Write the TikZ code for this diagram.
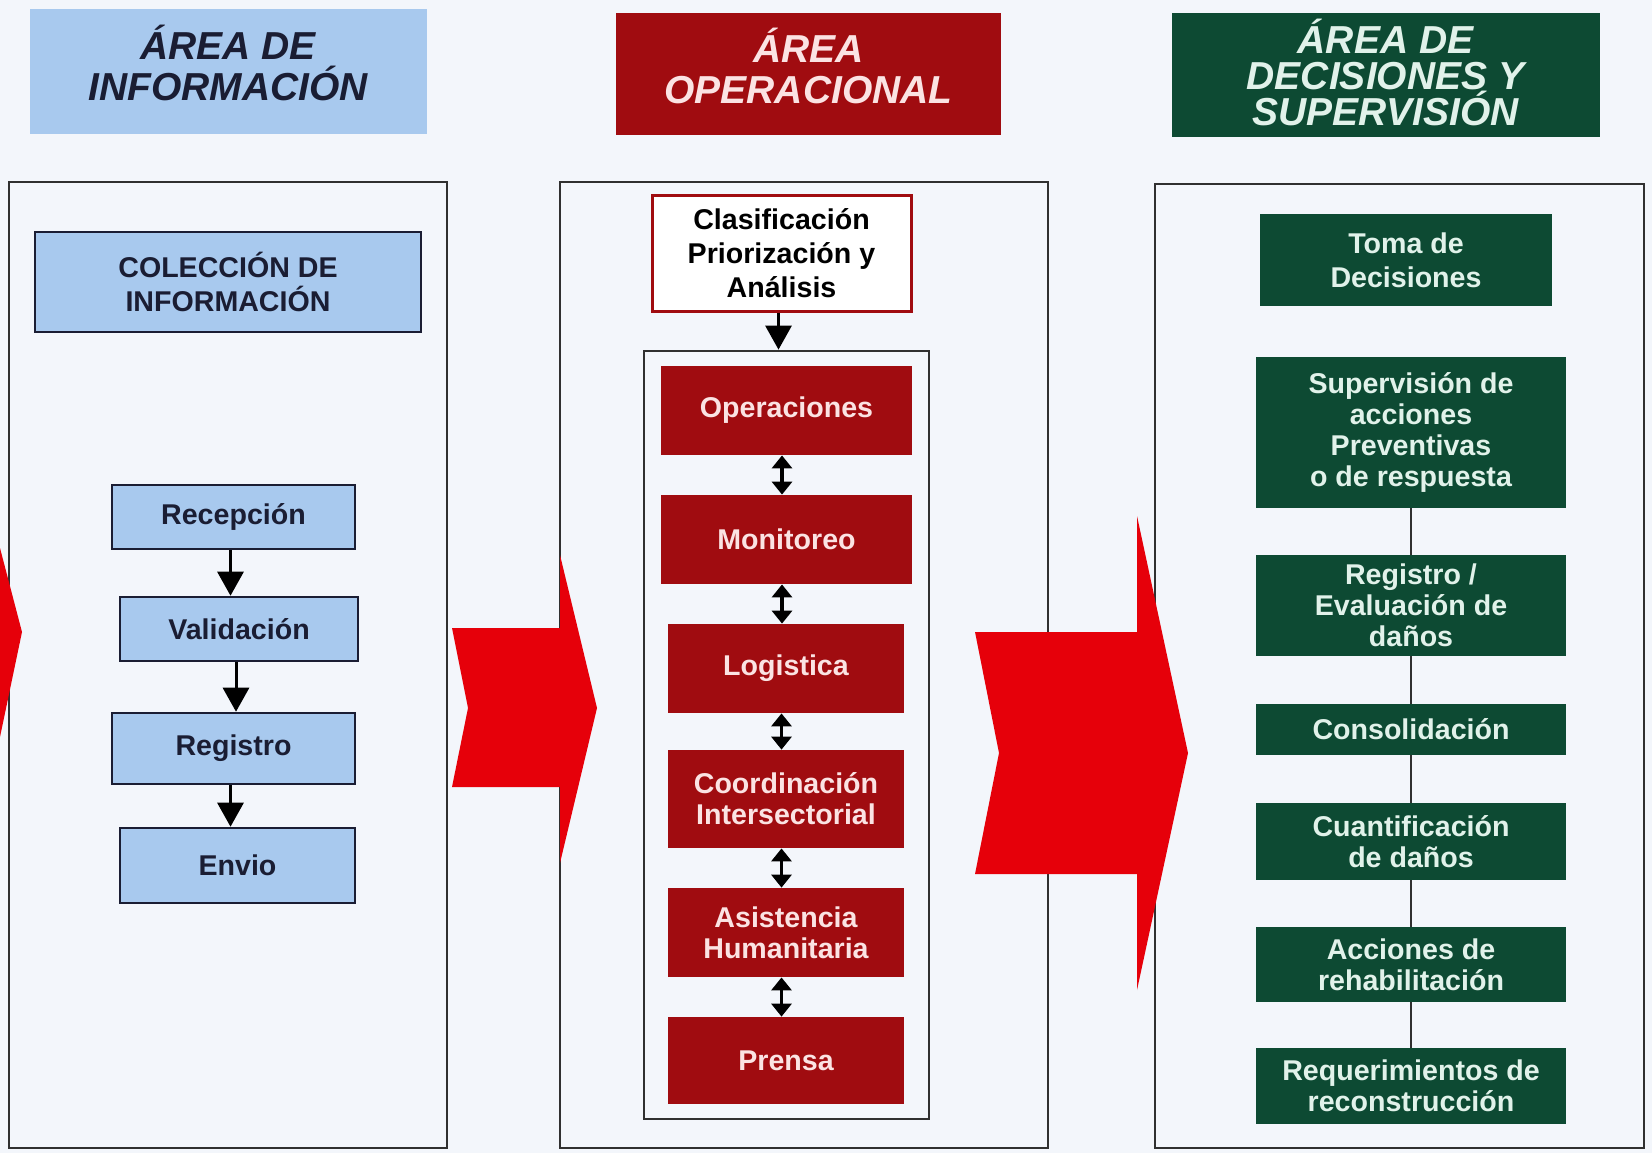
\documentclass[tikz,border=0pt]{standalone}
\usepackage{fontspec}
\setmainfont{Liberation Sans}
\usetikzlibrary{arrows.meta}
\definecolor{paper}{HTML}{F3F6FB}
\definecolor{infoblue}{HTML}{A8C9EE}
\definecolor{opred}{HTML}{A00C10}
\definecolor{decgreen}{HTML}{0D4A33}
\definecolor{flowred}{HTML}{E6000A}
\definecolor{ink}{HTML}{1A1D33}
\definecolor{framegray}{HTML}{303030}
\definecolor{optext}{HTML}{FBE3E3}
\definecolor{dectext}{HTML}{E1F2EA}

\begin{document}
\begin{tikzpicture}[
    x=0.5pt, y=-0.5pt,
    every node/.style={inner sep=0pt, align=center},
    wh/.style 2 args={minimum width={#1*0.5pt}, minimum height={#2*0.5pt}},
    areatitle/.style={font=\fontsize{19.5}{20.5}\selectfont\bfseries\itshape},
    boxtext/.style={font=\fontsize{14.3}{15.5}\selectfont\bfseries},
    infobox/.style={boxtext, fill=infoblue, draw=ink, line width=1.3pt, text=ink},
    opbox/.style={boxtext, fill=opred, text=optext},
    decbox/.style={boxtext, fill=decgreen, text=dectext},
    panel/.style={draw=framegray, line width=1.4pt},
    oneway/.style={-{Triangle[width=13pt,length=12pt]}, line width=1.5pt, draw=black},
    twoway/.style={{Triangle[width=10pt,length=6.5pt]}-{Triangle[width=10pt,length=6.5pt]}, line width=1.6pt, draw=black},
    link/.style={draw=framegray, line width=1.4pt},
    bigarrow/.style={fill=flowred}
]
\useasboundingbox (0,0) rectangle (1652,1153);
\fill[paper] (0,0) rectangle (1652,1153);

% area titles
\fill[infoblue] (29.5,8.5) rectangle (426.5,133.5);
\fill[opred] (616,13) rectangle (1001,135);
\fill[decgreen] (1171.5,13) rectangle (1599.5,137);
\node[areatitle, text=ink] (tinfo) at (228,63) {ÁREA DE\\INFORMACIÓN};
\node[areatitle, text=optext] (toper) at (808.5,66) {ÁREA\\OPERACIONAL};
\node[areatitle, text=dectext, font=\fontsize{19.5}{18}\selectfont\bfseries\itshape] (tdec) at (1385.5,72) {ÁREA DE\\DECISIONES Y\\SUPERVISIÓN};

% panels
\draw[panel] (9,182) rectangle (447,1148);
\draw[panel] (560,182) rectangle (1048,1148);
\draw[panel] (1155,184) rectangle (1644,1148);

% big red arrows
\fill[bigarrow] (0,548) -- (22,632) -- (0,737) -- cycle;
\fill[bigarrow] (452,628) -- (560,628) -- (560,555) -- (597,708) -- (560,863) -- (560,787) -- (452,787) -- (468,708) -- cycle;
\fill[bigarrow] (975,632) -- (1137,632) -- (1137,516) -- (1188,753) -- (1137,990) -- (1137,874) -- (975,874) -- (999,753) -- cycle;

% information column
\node[infobox, wh={386}{100}, font=\fontsize{14.3}{17}\selectfont\bfseries] (col) at (228,282) {COLECCIÓN DE\\INFORMACIÓN};
\node[infobox, wh={243}{64}] (rec) at (233.5,517) {Recepción};
\node[infobox, wh={238}{64}] (val) at (239,629) {Validación};
\node[infobox, wh={243}{71}] (reg) at (233.5,748.5) {Registro};
\node[infobox, wh={235}{75}] (env) at (237.5,865.5) {Envio};
\foreach \a/\b in {rec/val, val/reg, reg/env}
    \draw[oneway] ([xshift=-1.5pt]\a.south) -- ([xshift=-1.5pt]\a.south |- \b.north);

% operational column
\node[boxtext, wh={259}{116}, fill=white, draw=opred, line width=1.5pt, text=black,
      font=\fontsize{14.3}{17}\selectfont\bfseries] (cla) at (781.5,253) {Clasificación\\Priorización y\\Análisis};
\node[panel, wh={285}{768}] (opframe) at (786.5,735) {};
\draw[oneway] ([xshift=-1.5pt]cla.south) -- ([xshift=-1.5pt]cla.south |- opframe.north);
\node[opbox, wh={251}{89}] (ope) at (786.5,410.5) {Operaciones};
\node[opbox, wh={251}{89}] (mon) at (786.5,539.5) {Monitoreo};
\node[opbox, wh={236}{89}] (log) at (786,668.5) {Logistica};
\node[opbox, wh={236}{98}] (coo) at (786,799) {Coordinación\\Intersectorial};
\node[opbox, wh={236}{89}] (asi) at (786,932.5) {Asistencia\\Humanitaria};
\node[opbox, wh={236}{87}] (pre) at (786,1060.5) {Prensa};
\foreach \a/\b in {ope/mon, mon/log, log/coo, coo/asi, asi/pre}
    \draw[twoway] ([xshift=-2.25pt]\a.south) -- ([xshift=-2.25pt]\a.south |- \b.north);

% decisions column
\node[decbox, wh={292}{92}, font=\fontsize{14.3}{17}\selectfont\bfseries] (tom) at (1406,260) {Toma de\\Decisiones};
\node[decbox, wh={310}{151}] (sup) at (1411,432.5) {Supervisión de\\acciones\\Preventivas\\o de respuesta};
\node[decbox, wh={310}{101}] (rev) at (1411,605.5) {Registro /\\Evaluación de\\daños};
\node[decbox, wh={310}{51}] (con) at (1411,729.5) {Consolidación};
\node[decbox, wh={310}{77}] (cua) at (1411,841.5) {Cuantificación\\de daños};
\node[decbox, wh={310}{75}] (acc) at (1411,964.5) {Acciones de\\rehabilitación};
\node[decbox, wh={310}{76}] (req) at (1411,1086) {Requerimientos de\\reconstrucción};
\foreach \a/\b in {sup/rev, rev/con, con/cua, cua/acc, acc/req}
    \draw[link] (\a) -- (\b);
\end{tikzpicture}
\end{document}
